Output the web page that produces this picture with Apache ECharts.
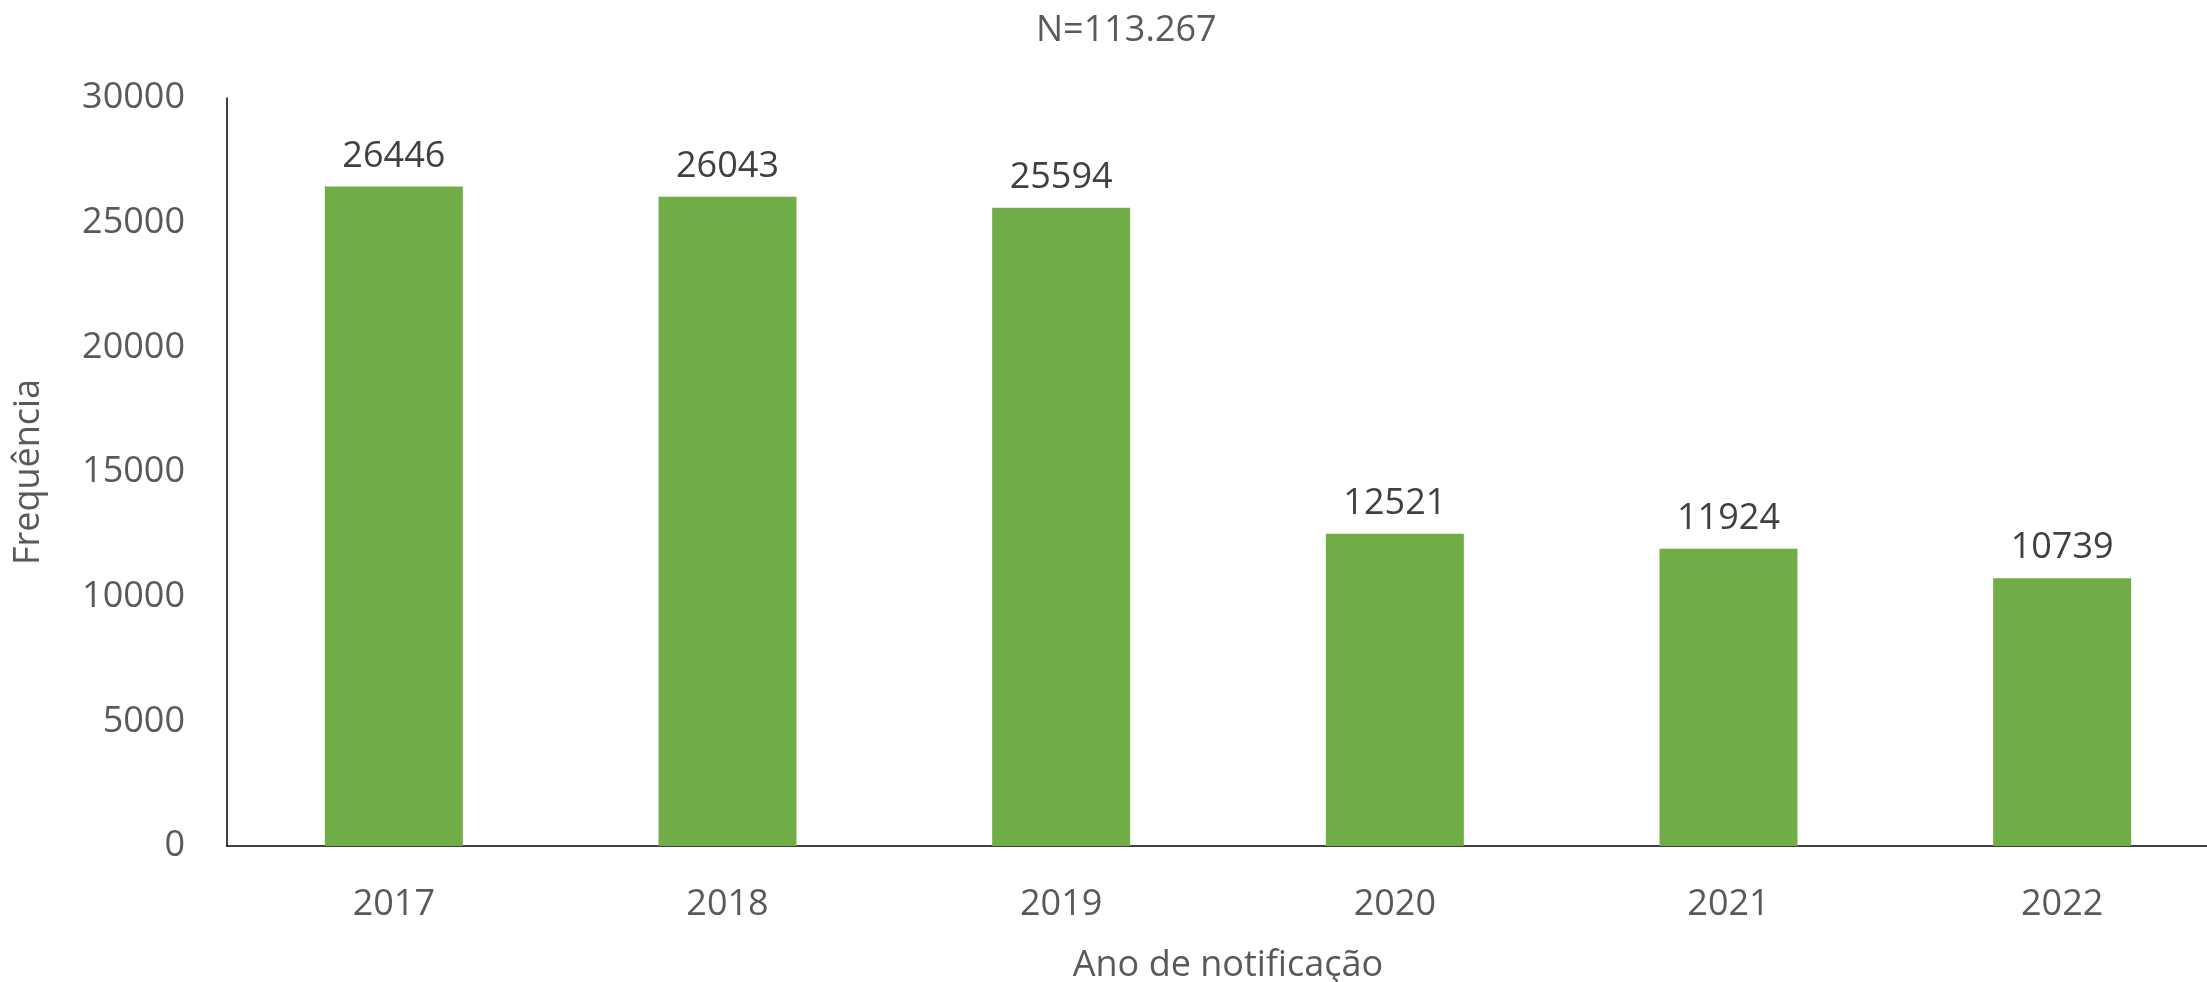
<!DOCTYPE html>
<html lang="pt-BR">
<head>
  <meta charset="UTF-8">
  <title>Frequência por ano de notificação</title>
  <script src="https://cdn.jsdelivr.net/npm/echarts@6.0.0/dist/echarts.min.js"></script>
  <style>
    html, body { margin: 0; padding: 0; width: 100%; height: 100%; background: #fff; }
    #chart { width: 2207px; height: 982px; }
  </style>
</head>
<body>
  <div id="chart"></div>
  <script>
    // dados
    const anos = ['2017', '2018', '2019', '2020', '2021', '2022'];
    const frequencias = [26446, 26043, 25594, 12521, 11924, 10739];
    const titulo = 'N=113.267';

    const fonte = '"Open Sans", "Noto Sans", sans-serif';
    const chart = echarts.init(document.getElementById('chart'));

    const option = {
      backgroundColor: '#ffffff',
      animation: false,
      title: {
        text: titulo,
        left: 1031,
        top: 8,
        textStyle: { fontFamily: fonte, fontSize: 36, fontWeight: 'normal', color: '#595959' }
      },
      // o eixo x passa da borda direita, como no original
      grid: {
        left: 227, width: 2002, top: 98, bottom: 136,
        containLabel: false, outerBoundsMode: 'none'
      },
      xAxis: {
        type: 'category',
        data: anos,
        name: 'Ano de notificação',
        nameLocation: 'middle',
        nameGap: 102,
        nameTextStyle: { fontFamily: fonte, fontSize: 36, color: '#595959' },
        axisLine: { lineStyle: { color: '#000', width: 1.5 } },
        axisTick: { show: false },
        axisLabel: { fontFamily: fonte, fontSize: 36, color: '#595959', margin: 41 }
      },
      yAxis: {
        type: 'value',
        min: 0,
        max: 30000,
        interval: 5000,
        name: 'Frequência',
        nameLocation: 'middle',
        nameGap: 180,
        nameTextStyle: { fontFamily: fonte, fontSize: 36, color: '#595959' },
        axisLine: { show: true, lineStyle: { color: '#000', width: 1.5 } },
        axisTick: { show: false },
        splitLine: { show: false },
        axisLabel: {
          fontFamily: fonte, fontSize: 36, color: '#595959', margin: 42,
          formatter: (v) => String(v)
        }
      },
      series: [{
        type: 'bar',
        data: frequencias,
        barWidth: 138,
        itemStyle: { color: '#70AD47' },
        label: {
          show: true,
          position: 'top',
          distance: 12,
          fontFamily: fonte,
          fontSize: 36,
          color: '#404040'
        }
      }]
    };

    chart.setOption(option);
  </script>
</body>
</html>
